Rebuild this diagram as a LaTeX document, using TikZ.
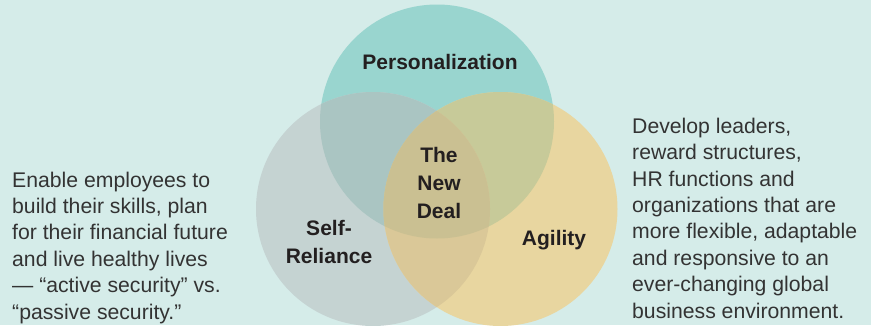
\documentclass[tikz,border=0pt]{standalone}
\usepackage{fontspec}
\setmainfont{Liberation Sans}
\usetikzlibrary{positioning}

\definecolor{bgmint}{RGB}{213,236,233}
\definecolor{circteal}{RGB}{153,213,207}
\definecolor{circgray}{RGB}{197,211,210}
\definecolor{circsand}{RGB}{232,214,160}
\definecolor{tealgray}{RGB}{170,197,194}
\definecolor{tealsand}{RGB}{199,202,153}
\definecolor{graysand}{RGB}{218,200,152}
\definecolor{dealmid}{RGB}{202,192,146}
\definecolor{labelgray}{RGB}{35,31,32}
\definecolor{textgray}{RGB}{51,51,51}

\begin{document}
\begin{tikzpicture}[x=1pt,y=-1pt]
    \tikzset{label/.style = {font=\bfseries\fontsize{21}{28}\selectfont, align=center, text=labelgray, inner sep=0pt}}
    \tikzset{blurb/.style = {font=\fontsize{21.2}{26.4}\selectfont, align=left, text=textgray, inner sep=0pt}}

    % background
    \useasboundingbox (0,0) rectangle (871,325);
    \clip (0,0) rectangle (871,325);
    \fill[bgmint] (0,0) rectangle (871,325);

    % circle centres
    \coordinate (pc) at (437,121.5);
    \coordinate (sc) at (373,209);
    \coordinate (ac) at (500.5,209);
    \def\rad{117}

    % the three circles
    \fill[circteal] (pc) circle (\rad);
    \fill[circgray] (sc) circle (\rad);
    \fill[circsand] (ac) circle (\rad);

    % overlaps
    \begin{scope}
        \clip (pc) circle (\rad);
        \fill[tealgray] (sc) circle (\rad);
        \fill[tealsand] (ac) circle (\rad);
    \end{scope}
    \begin{scope}
        \clip (sc) circle (\rad);
        \fill[graysand] (ac) circle (\rad);
    \end{scope}
    \begin{scope}
        \clip (pc) circle (\rad);
        \clip (sc) circle (\rad);
        \fill[dealmid] (ac) circle (\rad);
    \end{scope}

    % circle labels
    \node[label] (personal) at (440,62) {Personalization};
    \node[label] (deal) at (439,183) {The\\New\\Deal};
    \node[label] (self) at (329,242) {Self-\\Reliance};
    \node[label] (agile) at (554,240) {Agility};

    % side texts (base sits on the last line)
    \node[blurb, anchor=base west] (enable) at (12,319)
        {Enable employees to\\build their skills, plan\\for their financial future\\and live healthy lives\\— “active security” vs.\\“passive security.”};
    \node[blurb, anchor=base west] (develop) at (632,318)
        {Develop leaders,\\reward structures,\\HR functions and\\organizations that are\\more flexible, adaptable\\and responsive to an\\ever-changing global\\business environment.};

\end{tikzpicture}
\end{document}
